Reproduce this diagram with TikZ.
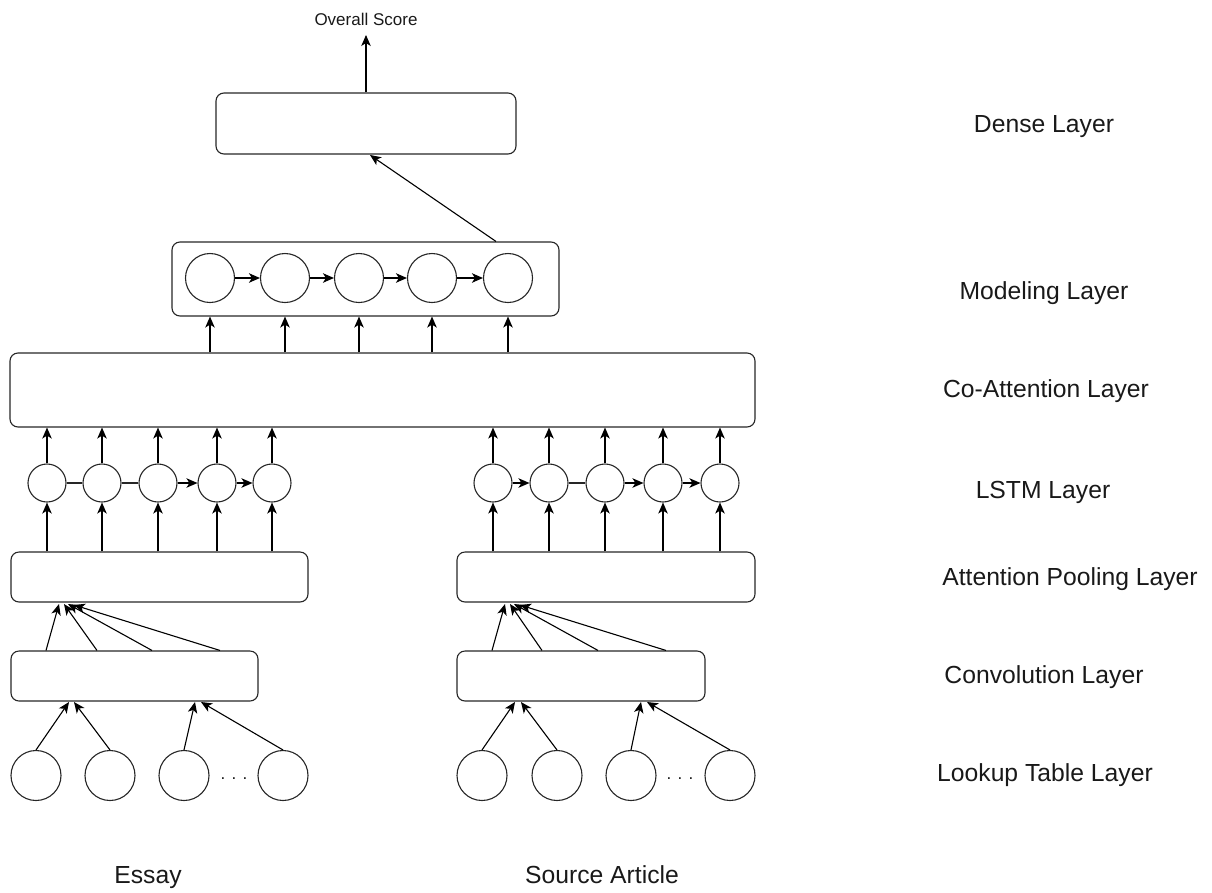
\documentclass[tikz,border=0pt]{standalone}
\usepackage{fontspec}
\setmainfont{Liberation Sans}
\usetikzlibrary{arrows.meta}
\begin{document}
\begin{tikzpicture}[x=1pt,y=-1pt,
  box/.style={draw=black!85, line width=1.1pt, rounded corners=8pt, inner sep=0pt},
  cell/.style={draw=black!85, line width=1.1pt, circle, inner sep=0pt},
  arr/.style={draw=black, line width=1.1pt, -{Stealth[length=11pt,width=9.5pt,inset=3pt]}},
  ln/.style={draw=black!85, line width=1.1pt},
  lbl/.style={font=\fontsize{24.7}{29}\selectfont, inner sep=0pt, text=black!90, anchor=base},
  small/.style={font=\fontsize{17}{20}\selectfont, inner sep=0pt, text=black!90}]
\useasboundingbox (0,0) rectangle (1212,892);

% ---- boxes
\node[box, minimum width=300, minimum height=61] (dense) at (366,123.5) {};
\node[box, minimum width=387, minimum height=74] (mb) at (365.5,279) {};
\node[box, minimum width=745, minimum height=74] (co) at (382.5,390) {};
\node[box, minimum width=297, minimum height=50] (eap) at (159.5,577) {};
\node[box, minimum width=298, minimum height=50] (sap) at (606,577) {};
\node[box, minimum width=247, minimum height=50] (ecv) at (134.5,676) {};
\node[box, minimum width=248, minimum height=50] (scv) at (581,676) {};

% ---- modeling cells
\foreach \i/\x in {1/210,2/285,3/359,4/432,5/508}
  \node[cell, minimum size=49] (m\i) at (\x,278) {};
\foreach \a/\b in {1/2,2/3,3/4,4/5}
  \draw[arr] (m\a) -- (m\b);

% ---- LSTM cells
\foreach \i/\x in {1/47,2/102,3/158,4/217,5/272}
  \node[cell, minimum size=38] (e\i) at (\x,483) {};
\foreach \i/\x in {1/493,2/549,3/605,4/663,5/720}
  \node[cell, minimum size=38] (s\i) at (\x,483) {};
\draw[ln] (e1) -- (e2);
\draw[ln] (e2) -- (e3);
\draw[arr] (e3) -- (e4);
\draw[arr] (e4) -- (e5);
\draw[arr] (s1) -- (s2);
\draw[ln] (s2) -- (s3);
\draw[arr] (s3) -- (s4);
\draw[arr] (s4) -- (s5);

% ---- lookup cells
\foreach \i/\x in {1/36,2/110,3/184,4/283}
  \node[cell, minimum size=50] (el\i) at (\x,775.5) {};
\foreach \i/\x in {1/482,2/557,3/631,4/730}
  \node[cell, minimum size=50] (sl\i) at (\x,775.5) {};
\node[small] (edots) at (234,779) {. . .};
\node[small] (sdots) at (680,779) {. . .};

% ---- vertical arrows
\foreach \i in {1,...,5} {
  \draw[arr] (m\i |- co.north) -- (m\i |- mb.south);
  \draw[arr] (e\i.north) -- (e\i |- co.south);
  \draw[arr] (s\i.north) -- (s\i |- co.south);
  \draw[arr] (e\i |- eap.north) -- (e\i.south);
  \draw[arr] (s\i |- sap.north) -- (s\i.south);
}

% ---- conv -> attention pooling (converging)
\coordinate (ta1) at (59,604); \coordinate (ta2) at (64,604);
\coordinate (ta3) at (68,604); \coordinate (ta4) at (74,605);
\draw[arr] (ecv.north -| 46,0) -- (ta1);
\draw[arr] (ecv.north -| 97,0) -- (ta2);
\draw[arr] (ecv.north -| 152,0) -- (ta3);
\draw[arr] (ecv.north -| 220,0) -- (ta4);
\coordinate (tb1) at (505,604); \coordinate (tb2) at (510,604);
\coordinate (tb3) at (514,604); \coordinate (tb4) at (520,605);
\draw[arr] (scv.north -| 492,0) -- (tb1);
\draw[arr] (scv.north -| 542,0) -- (tb2);
\draw[arr] (scv.north -| 598,0) -- (tb3);
\draw[arr] (scv.north -| 666,0) -- (tb4);

% ---- lookup -> conv
\coordinate (tc1) at (69,702); \coordinate (tc2) at (74,702);
\coordinate (tc3) at (195,702); \coordinate (tc4) at (201,702);
\draw[arr] (el1.north) -- (tc1);
\draw[arr] (el2.north) -- (tc2);
\draw[arr] (el3.north) -- (tc3);
\draw[arr] (el4.north) -- (tc4);
\coordinate (td1) at (515,702); \coordinate (td2) at (521,702);
\coordinate (td3) at (641,702); \coordinate (td4) at (647,702);
\draw[arr] (sl1.north) -- (td1);
\draw[arr] (sl2.north) -- (td2);
\draw[arr] (sl3.north) -- (td3);
\draw[arr] (sl4.north) -- (td4);

% ---- modeling -> dense, dense -> score
\coordinate (dt) at (370,155);
\draw[arr] (mb.north -| 496,0) -- (dt);
\node[small, anchor=base] (score) at (366,25) {Overall Score};
\coordinate (st) at (366,35);
\draw[arr] (dense.north) -- (st);

% ---- layer labels
\node[lbl] (l1) at (1044,132) {Dense Layer};
\node[lbl] (l2) at (1044,299) {Modeling Layer};
\node[lbl] (l3) at (1046,397) {Co-Attention Layer};
\node[lbl] (l4) at (1043,498) {LSTM Layer};
\node[lbl] (l5) at (1070,585) {Attention Pooling Layer};
\node[lbl] (l6) at (1044,683) {Convolution Layer};
\node[lbl] (l7) at (1045,781) {Lookup Table Layer};
\node[lbl] (essay) at (148,883) {Essay};
\node[lbl] (src) at (602,883) {Source Article};
\end{tikzpicture}
\end{document}
